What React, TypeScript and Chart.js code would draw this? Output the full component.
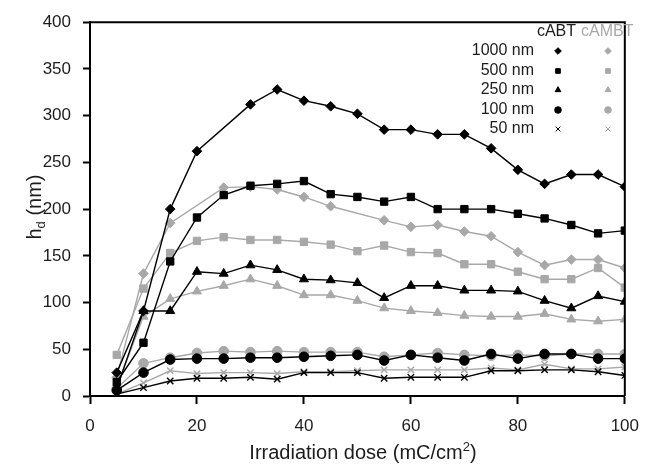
import React, { useEffect, useRef } from "react";
import { Chart, registerables } from "chart.js";
import { drawPoint } from "chart.js/helpers";

Chart.register(...registerables);

const doses = [5, 10, 15, 20, 25, 30, 35, 40, 45, 50, 55, 60, 65, 70, 75, 80, 85, 90, 95, 100];
const sizeLabels = ["1000 nm", "500 nm", "250 nm", "100 nm", "50 nm"];
const groupLabels = ["cABT", "cAMBT"];

const cABT1000 = [25, 91, 200, 262, null, 312, 328, 316, 310, 302, 285, 285, 280, 280, 265, 242, 227, 237, 237, 224];
const cABT500 = [15, 57, 144, 191, 215, 225, 227, 230, 216, 213, 208, 213, 200, 200, 200, 195, 190, 183, 174, 177];
const cABT250 = [8, 91, 91, 133, 131, 140, 135, 125, 124, 121, 105, 118, 118, 113, 113, 112, 102, 94, 107, 101];
const cABT100 = [6, 25, 39, 40, 40, 41, 41, 42, 43, 44, 38, 44, 41, 38, 45, 40, 45, 45, 40, 40];
const cABT50 = [2, 9, 16, 19, 19, 20, 18, 25, 25, 25, 19, 20, 20, 20, 27, 27, 28, 28, 26, 22];

const cAMBT1000 = [20, 131, 185, null, 223, 224, 221, 213, 203, null, 188, 181, 183, 176, 171, 154, 140, 146, 146, 137];
const cAMBT500 = [44, 115, 153, 166, 170, 167, 167, 165, 162, 155, 161, 154, 153, 141, 141, 133, 125, 125, 137, 116];
const cAMBT250 = [10, 85, 104, 112, 118, 125, 118, 108, 108, 102, 94, 91, 89, 86, 85, 85, 88, 82, 80, 82];
const cAMBT100 = [8, 35, 41, 46, 48, 47, 48, 47, 47, 47, 42, 44, 46, 44, 43, 44, 43, 45, 45, 45];
const cAMBT50 = [2, 14, 27, 24, 25, 25, 24, 26, 26, 27, 28, 28, 28, 28, 30, 28, 34, 29, 29, 31];

const BLACK = "#000000";
const GRAY = "#a8a8a8";
const TEXT = "#1c1c1c";
const FONT = "'Liberation Sans', Arial, sans-serif";

const styles = ["rectRot", "rect", "triangle", "circle", "crossRot"];
const radii = [4.8, 5.2, 5.2, 4.8, 4.5];

const blackSeries = [cABT1000, cABT500, cABT250, cABT100, cABT50];
const graySeries = [cAMBT1000, cAMBT500, cAMBT250, cAMBT100, cAMBT50];

function makeDataset(label: string, vals: (number | null)[], color: string, i: number) {
  return {
    label,
    data: doses.map((d, k) => ({ x: d, y: vals[k] })),
    borderColor: color,
    backgroundColor: color,
    pointBorderColor: color,
    pointBackgroundColor: color,
    borderWidth: 1.4,
    pointStyle: styles[i],
    pointRadius: radii[i],
    pointBorderWidth: styles[i] === "crossRot" ? 1.4 : 1,
    spanGaps: true,
    tension: 0,
  };
}

const extrasPlugin = {
  id: "extras",
  afterDraw(chart: any) {
    const { ctx, chartArea } = chart;
    ctx.save();
    // frame
    ctx.strokeStyle = "#000";
    ctx.lineWidth = 2;
    ctx.beginPath();
    ctx.moveTo(chartArea.left, chartArea.top);
    ctx.lineTo(chartArea.right, chartArea.top);
    ctx.lineTo(chartArea.right, chartArea.bottom);
    ctx.stroke();

    // legend
    ctx.textBaseline = "middle";
    ctx.font = `16px ${FONT}`;
    ctx.fillStyle = TEXT;
    ctx.textAlign = "right";
    ctx.fillText(groupLabels[0], 576, 32);
    ctx.fillStyle = GRAY;
    ctx.textAlign = "left";
    ctx.fillText(groupLabels[1], 581, 32);
    const rowY = [51, 71, 90, 110, 129];
    for (let i = 0; i < sizeLabels.length; i++) {
      ctx.fillStyle = TEXT;
      ctx.textAlign = "right";
      ctx.fillText(sizeLabels[i], 534, rowY[i]);
      for (const [cx, col] of [[558, BLACK], [608, GRAY]] as [number, string][]) {
        ctx.fillStyle = col;
        ctx.strokeStyle = col;
        ctx.lineWidth = 1;
        drawPoint(ctx, { pointStyle: styles[i], radius: 3.3, rotation: 0, borderWidth: 1 } as any, cx, rowY[i]);
      }
    }

    // x title
    ctx.fillStyle = TEXT;
    ctx.textBaseline = "alphabetic";
    const big = `20px ${FONT}`;
    const small = `13px ${FONT}`;
    const p1 = "Irradiation dose (mC/cm";
    const p2 = "2";
    const p3 = ")";
    ctx.font = big;
    const w1 = ctx.measureText(p1).width;
    const w3 = ctx.measureText(p3).width;
    ctx.font = small;
    const w2 = ctx.measureText(p2).width;
    const total = w1 + w2 + w3;
    const x0 = 363 - total / 2;
    const by = 459;
    ctx.textAlign = "left";
    ctx.font = big;
    ctx.fillText(p1, x0, by);
    ctx.font = small;
    ctx.fillText(p2, x0 + w1, by - 8);
    ctx.font = big;
    ctx.fillText(p3, x0 + w1 + w2, by);

    // y title
    ctx.translate(35, 207);
    ctx.rotate(-Math.PI / 2);
    const q1 = "h";
    const q2 = "d";
    const q3 = " (nm)";
    ctx.font = big;
    const v1 = ctx.measureText(q1).width;
    const v3 = ctx.measureText(q3).width;
    ctx.font = small;
    const v2 = ctx.measureText(q2).width;
    const tot = v1 + v2 + v3;
    const s = -tot / 2;
    ctx.textBaseline = "middle";
    ctx.font = big;
    ctx.fillText(q1, s, 0);
    ctx.font = small;
    ctx.fillText(q2, s + v1, 6);
    ctx.font = big;
    ctx.fillText(q3, s + v1 + v2, 0);
    ctx.restore();
  },
};

export default function App() {
  const ref = useRef<HTMLCanvasElement>(null);
  useEffect(() => {
    if (!ref.current) return;
    const datasets = [
      ...blackSeries.map((v, i) => makeDataset(`cABT ${sizeLabels[i]}`, v, BLACK, i)),
      ...graySeries.map((v, i) => makeDataset(`cAMBT ${sizeLabels[i]}`, v, GRAY, i)),
    ];
    const chart = new Chart(ref.current, {
      type: "line",
      data: { datasets },
      options: {
        responsive: false,
        animation: false,
        layout: { padding: { top: 17, right: 15, left: 0, bottom: 0 } },
        plugins: { legend: { display: false }, tooltip: { enabled: false } },
        scales: {
          x: {
            type: "linear",
            min: 0,
            max: 100,
            ticks: { stepSize: 20, padding: 12, color: TEXT, font: { size: 17, family: FONT } },
            grid: { drawOnChartArea: false, drawTicks: true, tickLength: 8, tickColor: "#000", tickWidth: 2 },
            border: { color: "#000", width: 2 },
            afterFit: (s: any) => { s.height = 68; },
          },
          y: {
            type: "linear",
            min: 0,
            max: 400,
            ticks: { stepSize: 50, padding: 12, color: TEXT, font: { size: 17, family: FONT } },
            grid: { drawOnChartArea: false, drawTicks: true, tickLength: 7, tickColor: "#000", tickWidth: 2 },
            border: { color: "#000", width: 2 },
            afterFit: (s: any) => { s.width = 90; },
          },
        },
      },
      plugins: [extrasPlugin],
    });
    return () => chart.destroy();
  }, []);
  return (
    <div style={{ position: "absolute", left: 0, top: 0, width: 651, height: 464, background: "#fff" }}>
      <canvas ref={ref} width={651} height={464} style={{ display: "block" }} />
    </div>
  );
}
